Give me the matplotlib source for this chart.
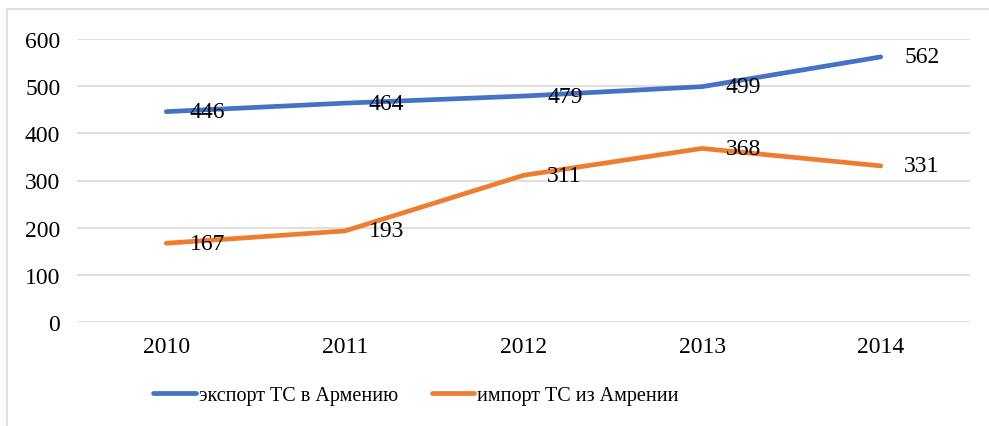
import matplotlib.pyplot as plt
from matplotlib.patches import Rectangle

years = ["2010", "2011", "2012", "2013", "2014"]
export_vals = [446, 464, 479, 499, 562]
import_vals = [167, 193, 311, 368, 331]
export_label = "экспорт ТС в Армению"
import_label = "импорт ТС из Амрении"

plt.rcParams['font.family'] = ['Liberation Serif', 'DejaVu Serif']

W, H = 989, 427
fig = plt.figure(figsize=(W / 100, H / 100), dpi=100)
ax = fig.add_axes([77 / W, 1 - 323 / H, (970 - 77) / W, (323 - 40) / H])

# chart area border
fig.patches.append(Rectangle((7 / W, -0.1), 1.0, 1.1 - 10 / H, transform=fig.transFigure,
                             fill=False, edgecolor='#d9d9d9', linewidth=1.2))

x = list(range(len(years)))
ax.plot(x, export_vals, color='#4472c4', linewidth=3.4, solid_capstyle='round', label=export_label)
ax.plot(x, import_vals, color='#ed7d31', linewidth=3.4, solid_capstyle='round', label=import_label)

for vals in (export_vals, import_vals):
    for xi, v in zip(x, vals):
        ax.annotate(str(v), (xi, v), xytext=(17, 0), textcoords='offset points',
                    ha='left', va='center', fontsize=17, color='black')

ax.set_xlim(-0.5, 4.5)
ax.set_ylim(0, 600)
ax.set_yticks(range(0, 601, 100))
ax.set_xticks(x)
ax.set_xticklabels(years)
ax.tick_params(axis='both', length=0, labelsize=17)
ax.tick_params(axis='y', pad=12)
ax.tick_params(axis='x', pad=10)
ax.grid(axis='y', color='#d9d9d9', linewidth=1.2)
ax.set_axisbelow(True)
for s in ax.spines.values():
    s.set_visible(False)

fig.legend(loc='center', bbox_to_anchor=(416 / W, 1 - 396 / H), ncol=2, frameon=False,
           fontsize=14.5, handlelength=2.1, handletextpad=0.15, columnspacing=1.7)

fig.savefig('out.png', dpi=100)
